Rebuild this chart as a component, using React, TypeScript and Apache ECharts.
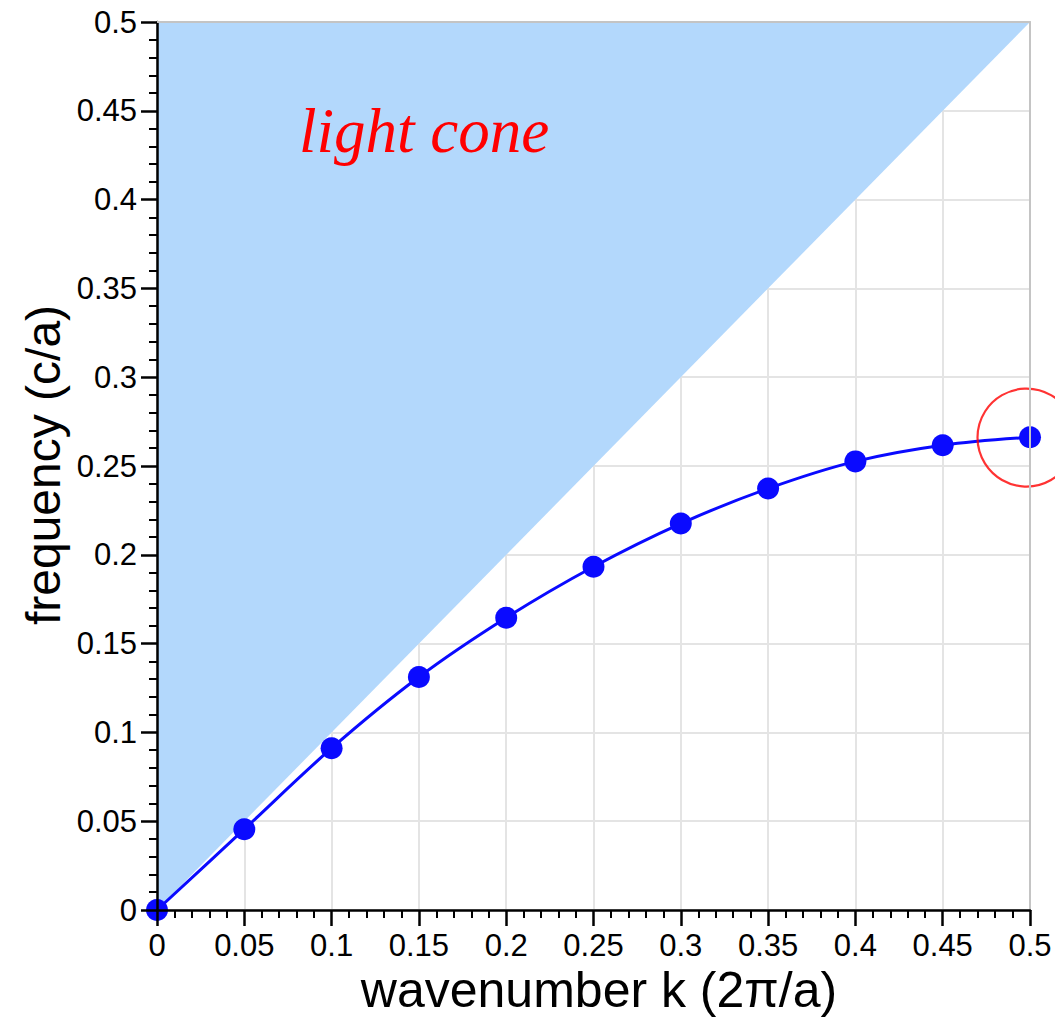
import React, { useEffect, useRef } from "react";
import * as echarts from "echarts";

// Data
const kValues = [0, 0.05, 0.1, 0.15, 0.2, 0.25, 0.3, 0.35, 0.4, 0.45, 0.5];
const freqValues = [0, 0.0455, 0.0911, 0.1312, 0.1646, 0.1933, 0.2176, 0.2373, 0.2526, 0.2617, 0.2662];
const lightConeK = [0, 0.5];
const lightConeFreq = [0, 0.5];
const highlightK = [0.498];
const highlightFreq = [0.266];
const xTitle = "wavenumber k (2\u03c0/a)";
const yTitle = "frequency (c/a)";
const coneLabel = "light cone";

const SANS = "'Liberation Sans', Arial, Helvetica, sans-serif";
const SERIF = "'Liberation Serif', 'Times New Roman', serif";

const fmt = (v: number) => String(+Number(v).toFixed(2));

export default function App() {
  const ref = useRef<HTMLDivElement>(null);
  useEffect(() => {
    document.body.style.margin = "0";
    if (!ref.current) return;
    const chart = echarts.init(ref.current, undefined, { renderer: "svg" });
    const baseAxis = { type: "value", min: 0, max: 0.5, interval: 0.05 };
    const labelAxis = (isX: boolean) => ({
      ...baseAxis,
      position: isX ? "bottom" : "left",
      z: 5,
      axisLine: { show: true, onZero: false, lineStyle: { color: "#000", width: 2.5 } },
      axisTick: { show: true, inside: false, length: 16, lineStyle: { color: "#000", width: 2.5 } },
      minorTick: { show: true, splitNumber: 5, length: 8, lineStyle: { color: "#000", width: 2 } },
      axisLabel: {
        show: true,
        margin: 20,
        fontSize: 31,
        color: "#000",
        fontFamily: SANS,
        formatter: fmt,
        showMinLabel: true,
        showMaxLabel: true,
      },
      splitLine: { show: false },
    });
    const gridAxis = (isX: boolean) => ({
      ...baseAxis,
      position: isX ? "bottom" : "left",
      z: 0,
      axisLine: { show: false, onZero: false },
      axisTick: { show: false },
      axisLabel: { show: false },
      splitLine: { show: true, lineStyle: { color: "#e4e4e4", width: 2 } },
    });
    const frameAxis = (isX: boolean) => ({
      ...baseAxis,
      position: isX ? "top" : "right",
      z: 5,
      axisLine: { show: true, onZero: false, lineStyle: { color: "#c4c4c4", width: 2 } },
      axisTick: { show: false },
      axisLabel: { show: false },
      splitLine: { show: false },
    });

    chart.setOption({
      animation: false,
      backgroundColor: "#fff",
      grid: { left: 157, right: 25, top: 22, bottom: 111 },
      xAxis: [gridAxis(true), labelAxis(true), frameAxis(true)],
      yAxis: [gridAxis(false), labelAxis(false), frameAxis(false)],
      series: [
        {
          type: "line",
          name: "cone",
          xAxisIndex: 0,
          yAxisIndex: 0,
          z: 1,
          data: lightConeK.map((k, i) => [k, lightConeFreq[i]]),
          showSymbol: false,
          symbol: "none",
          lineStyle: { width: 0, opacity: 0 },
          areaStyle: { origin: "end", color: "#b3d8fc", opacity: 1 },
          silent: true,
        },
        {
          type: "line",
          name: "band",
          xAxisIndex: 0,
          yAxisIndex: 0,
          z: 3,
          data: kValues.map((k, i) => [k, freqValues[i]]),
          smooth: 0.35,
          symbol: "circle",
          symbolSize: 22,
          showSymbol: true,
          lineStyle: { color: "#0a0aff", width: 3 },
          itemStyle: { color: "#0a0aff" },
          clip: false,
        },
        {
          type: "scatter",
          name: "highlight",
          xAxisIndex: 0,
          yAxisIndex: 0,
          z: 4,
          clip: false,
          data: highlightK.map((k, i) => [k, highlightFreq[i]]),
          symbol: "circle",
          symbolSize: 98,
          itemStyle: { color: "rgba(0,0,0,0)", borderColor: "#ff0000", borderWidth: 2.2 },
          silent: true,
        },
      ],
      graphic: [
        {
          type: "text",
          x: 424,
          y: 131,
          z: 10,
          style: {
            text: coneLabel,
            fill: "#ff0000",
            font: `italic 63px ${SERIF}`,
            align: "center",
            verticalAlign: "middle",
          },
        },
        {
          type: "text",
          x: 599,
          y: 990,
          z: 10,
          style: {
            text: xTitle,
            fill: "#000",
            font: `50px ${SANS}`,
            align: "center",
            verticalAlign: "middle",
          },
        },
        {
          type: "text",
          x: 43,
          y: 465,
          rotation: Math.PI / 2,
          z: 10,
          style: {
            text: yTitle,
            fill: "#000",
            font: `48px ${SANS}`,
            align: "center",
            verticalAlign: "middle",
          },
        },
      ],
    });
    return () => chart.dispose();
  }, []);
  return <div ref={ref} style={{ width: 1055, height: 1021, position: "absolute", left: 0, top: 0 }} />;
}
